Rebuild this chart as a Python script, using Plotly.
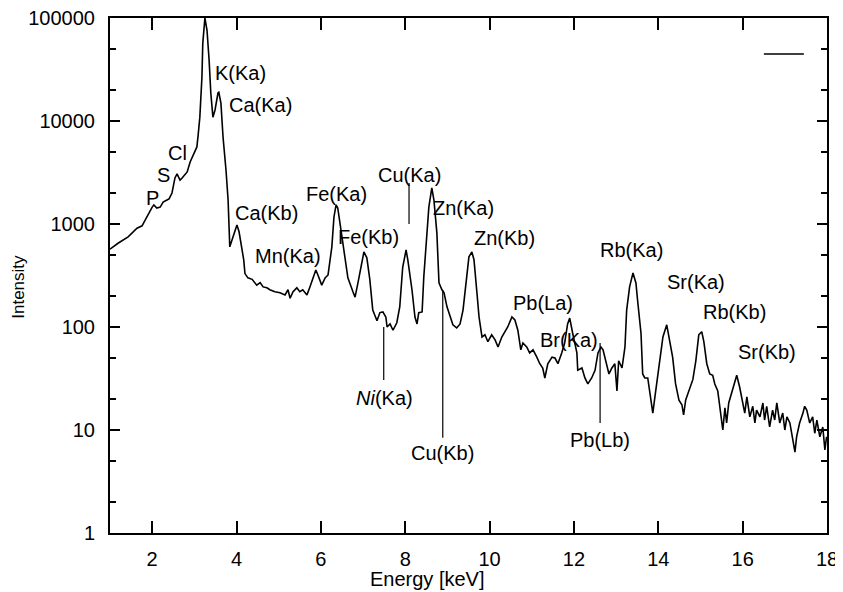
import math
import plotly.graph_objects as go

# ---- spectrum ----
energy = [1.00, 1.19, 1.43, 1.64, 1.76, 1.88, 2.00, 2.04, 2.11, 2.19, 2.26, 2.35, 2.40, 2.47, 2.54, 2.59,
          2.66, 2.71, 2.83, 2.90, 2.97, 3.06, 3.09, 3.13, 3.18, 3.20, 3.25, 3.30, 3.35, 3.39, 3.44, 3.49,
          3.56, 3.58, 3.63, 3.68, 3.75, 3.80, 3.84, 3.92, 4.01, 4.06, 4.12, 4.17, 4.20, 4.27, 4.37, 4.48,
          4.56, 4.63, 4.72, 4.79, 4.91, 5.03, 5.15, 5.22, 5.27, 5.34, 5.43, 5.50, 5.57, 5.67, 5.74, 5.81,
          5.88, 5.93, 6.02, 6.10, 6.17, 6.26, 6.31, 6.36, 6.40, 6.50, 6.57, 6.64, 6.76, 6.81, 6.88, 6.97,
          7.02, 7.09, 7.16, 7.23, 7.33, 7.40, 7.47, 7.54, 7.57, 7.64, 7.71, 7.80, 7.87, 7.94, 8.02, 8.06,
          8.16, 8.23, 8.28, 8.32, 8.40, 8.44, 8.51, 8.56, 8.63, 8.68, 8.75, 8.80, 8.87, 8.92, 8.99, 9.06,
          9.13, 9.22, 9.30, 9.37, 9.46, 9.51, 9.58, 9.63, 9.70, 9.75, 9.82, 9.89, 9.96, 10.05, 10.13, 10.20,
          10.29, 10.36, 10.43, 10.53, 10.60, 10.67, 10.74, 10.79, 10.88, 10.95, 11.03, 11.12, 11.19, 11.26,
          11.31, 11.38, 11.48, 11.55, 11.62, 11.71, 11.78, 11.85, 11.90, 11.97, 12.07, 12.09, 12.19, 12.26,
          12.33, 12.42, 12.50, 12.57, 12.64, 12.69, 12.78, 12.83, 12.90, 12.97, 13.02, 13.06, 13.14, 13.21,
          13.25, 13.32, 13.40, 13.47, 13.51, 13.59, 13.63, 13.68, 13.75, 13.82, 13.87, 13.92, 13.96, 14.04,
          14.11, 14.20, 14.27, 14.34, 14.41, 14.49, 14.56, 14.60, 14.65, 14.72, 14.82, 14.89, 14.96, 15.03,
          15.08, 15.15, 15.22, 15.29, 15.34, 15.41, 15.48, 15.53, 15.58, 15.62, 15.67, 15.74, 15.81, 15.86,
          15.93, 16.00, 16.05, 16.10, 16.17, 16.24, 16.29, 16.33, 16.41, 16.48, 16.52, 16.57, 16.64, 16.71,
          16.76, 16.81, 16.88, 16.95, 17.00, 17.05, 17.12, 17.19, 17.24, 17.28, 17.35, 17.43, 17.47, 17.52,
          17.59, 17.66, 17.71, 17.76, 17.83, 17.90, 17.95, 17.99]
intensity = [570, 650, 750, 910, 960, 1200, 1460, 1530, 1430, 1460, 1630, 1710, 1750, 2000, 2800, 3060,
             2670, 2800, 3200, 4000, 4700, 5600, 7300, 10900, 26700, 57000, 100000, 76000, 39000, 18700, 10900, 12800,
             18700, 19000, 14900, 7000, 3340, 1710, 600, 750, 980, 840, 620, 450, 330, 300, 290, 255,
             270, 245, 240, 230, 220, 215, 205, 230, 190, 220, 240, 220, 230, 205, 245, 300,
             357, 320, 255, 300, 320, 600, 1170, 1530, 1430, 750, 450, 300, 220, 195, 270, 420,
             535, 470, 290, 146, 115, 138, 140, 125, 100, 107, 93, 110, 157, 380, 560, 450,
             230, 125, 107, 138, 140, 306, 820, 1460, 2240, 1710, 820, 268, 230, 215, 157, 125,
             105, 98, 107, 146, 290, 480, 535, 450, 215, 125, 80, 84, 72, 84, 75, 64,
             80, 90, 100, 125, 117, 93, 60, 70, 64, 56, 60, 51, 44, 40,
             32, 44, 51, 50, 44, 56, 70, 107, 122, 87, 56, 38, 40, 32,
             28, 32, 38, 56, 64, 60, 44, 35, 40, 44, 24, 47, 40, 64,
             146, 245, 335, 268, 180, 87, 35, 32, 32, 21, 14.6, 21, 28, 47,
             80, 105, 75, 51, 28, 19.5, 17.6, 14, 19.6, 24, 31, 47, 84, 90,
             72, 44, 35, 34, 28, 24, 13.4, 10, 16.4, 11.7, 18.3, 23, 30, 34,
             26, 18.3, 14.6, 21, 13.4, 17, 11.7, 15.6, 13.4, 18.3, 12.5, 17, 10.7, 15.6,
             12.5, 18.3, 11.7, 14.6, 10, 13.4, 11.7, 8.0, 6.1, 8.6, 11.7, 14.6, 17, 15.6,
             11.7, 13.4, 9.3, 12.5, 8.6, 10.7, 6.4, 8.6]

# ---- peak labels ----
label_text = ["P", "S", "Cl", "K(Ka)", "Ca(Ka)", "Ca(Kb)", "Mn(Ka)", "Fe(Ka)", "Fe(Kb)", "Cu(Ka)",
              "Zn(Ka)", "Zn(Kb)", "Pb(La)", "Br(Ka)", "Rb(Ka)", "Sr(Ka)", "Rb(Kb)", "Sr(Kb)",
              "<i>Ni</i>(Ka)", "Cu(Kb)", "Pb(Lb)"]
label_energy = [2.00, 2.26, 2.59, 4.10, 4.58, 4.72, 5.22, 6.36, 7.12, 8.11,
                9.39, 10.36, 11.26, 11.88, 13.37, 14.89, 15.81, 16.57,
                7.52, 8.89, 12.61]
label_intensity = [1790, 2990, 4890, 29200, 14300, 1280, 489, 1955, 748, 2990,
                   1430, 731, 171, 75, 560, 273, 140, 57,
                   20.5, 6.0, 8.0]

# ---- leader lines for labels ----
leader_energy = [8.09, 7.49, 8.89, 12.62]
leader_top = [2500, 100, 229, 70]
leader_bottom = [1000, 30.6, 8.4, 11.7]

# ---- axis ticks ----
x_ticks = [2, 4, 6, 8, 10, 12, 14, 16, 18]
x_ticktext = ["2", "4", "6", "8", "10", "12", "14", "16", "18"]
y_ticks = [1, 10, 100, 1000, 10000, 100000]
y_ticktext = ["1", "10", "100", "1000", "10000", "100000"]
y_minor = [2, 5, 20, 50, 200, 500, 2000, 5000, 20000, 50000]

FONT = "Liberation Sans, Arial, Helvetica, sans-serif"

fig = go.Figure()
fig.add_trace(go.Scatter(x=energy, y=intensity, mode="lines", name=" ",
                         line=dict(color="black", width=1.6), showlegend=True))
for e, t, b in zip(leader_energy, leader_top, leader_bottom):
    fig.add_trace(go.Scatter(x=[e, e], y=[t, b], mode="lines", showlegend=False,
                             line=dict(color="black", width=1.2), hoverinfo="skip"))

for txt, e, v in zip(label_text, label_energy, label_intensity):
    fig.add_annotation(x=e, y=math.log10(v), text=txt, showarrow=False,
                       font=dict(family=FONT, size=20, color="black"),
                       xanchor="center", yanchor="middle")

fig.add_annotation(x=0.4435, y=-0.09, xref="paper", yref="paper", text="Energy [keV]",
                   showarrow=False, font=dict(family=FONT, size=20, color="black"),
                   xanchor="center", yanchor="middle", borderpad=0)
fig.add_annotation(x=-0.127, y=0.478, xref="paper", yref="paper", text="Intensity",
                   showarrow=False, textangle=-90, font=dict(family=FONT, size=17, color="black"),
                   xanchor="center", yanchor="middle", borderpad=0)

axis_common = dict(showline=True, linecolor="black", linewidth=2, mirror="ticks",
                   ticks="inside", tickcolor="black", tickwidth=1.5, showgrid=False,
                   zeroline=False, automargin=False, ticklabeloverflow="allow",
                   tickfont=dict(family=FONT, size=20, color="black"))

fig.update_xaxes(range=[1, 18], tickvals=x_ticks, ticktext=x_ticktext, ticklen=12,
                 ticklabelstandoff=7, **axis_common)
fig.update_yaxes(type="log", range=[0, 5], tickvals=y_ticks, ticktext=y_ticktext, ticklen=10,
                 minor=dict(tickvals=y_minor, ticks="inside", ticklen=6, tickcolor="black", tickwidth=1.5),
                 ticklabelstandoff=9, **axis_common)

# page body adds an 8px offset, so the figure is sized to fit the remaining window
fig.update_layout(width=835, height=584, margin=dict(l=102, r=16, t=10, b=59),
                  plot_bgcolor="white", paper_bgcolor="white",
                  font=dict(family=FONT, color="black"),
                  legend=dict(x=0.905, y=0.930, xanchor="left", yanchor="middle", itemwidth=40,
                              bgcolor="rgba(0,0,0,0)", font=dict(size=12)))

fig.write_html("out.html")
